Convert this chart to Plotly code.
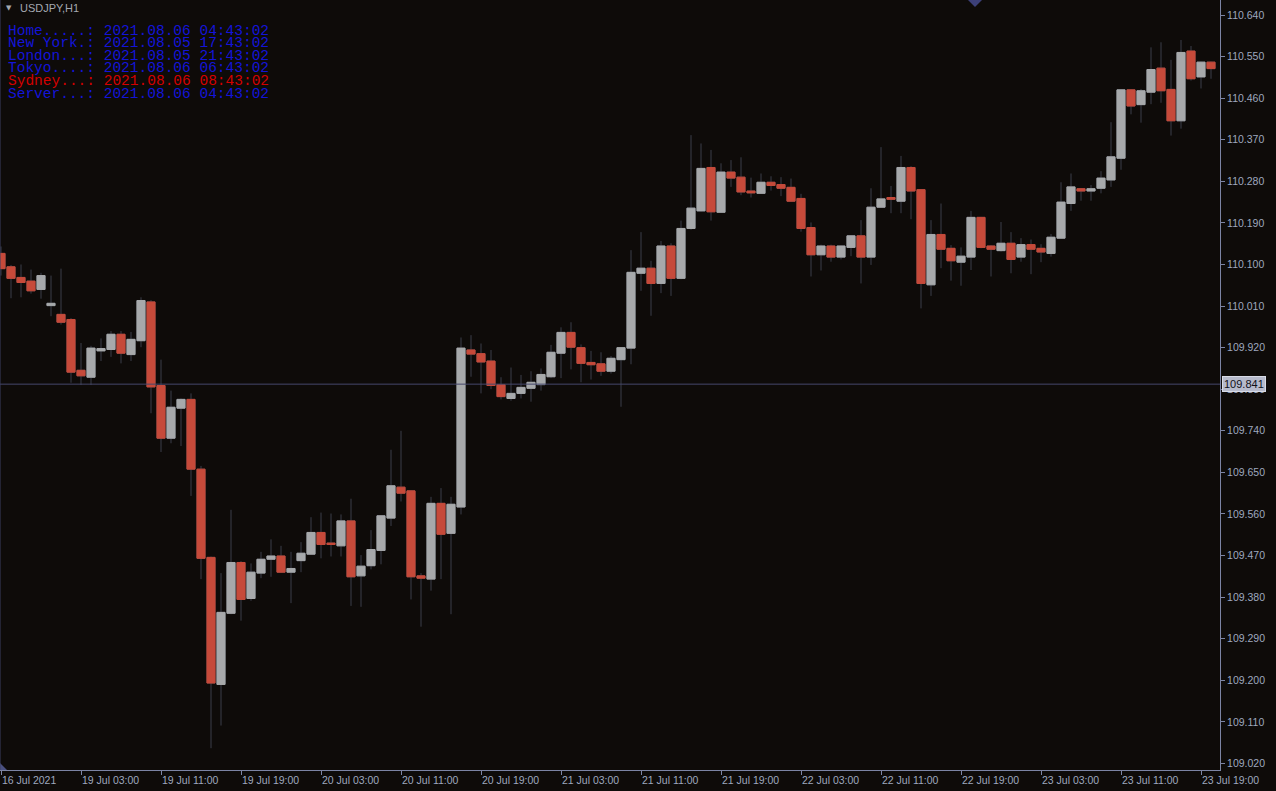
import plotly.graph_objects as go

# USDJPY H1 bars, oldest first
opens = [110.124, 110.095, 110.072, 110.064, 110.046, 110.011, 109.992, 109.981, 109.871, 109.856,
         109.913, 109.916, 109.949, 109.905, 109.935, 110.019, 109.838, 109.724, 109.789, 109.808,
         109.657, 109.466, 109.191, 109.345, 109.455, 109.377, 109.432, 109.462, 109.469, 109.434,
         109.459, 109.473, 109.520, 109.497, 109.491, 109.545, 109.426, 109.448, 109.481, 109.551,
         109.618, 109.610, 109.426, 109.419, 109.583, 109.518, 109.575, 109.915, 109.907, 109.891,
         109.840, 109.810, 109.821, 109.832, 109.840, 109.857, 109.908, 109.953, 109.920, 109.888,
         109.885, 109.869, 109.894, 109.919, 110.081, 110.092, 110.059, 110.140, 110.070, 110.178,
         110.216, 110.310, 110.213, 110.300, 110.289, 110.259, 110.254, 110.278, 110.273, 110.267,
         110.243, 110.180, 110.121, 110.140, 110.116, 110.137, 110.162, 110.116, 110.224, 110.245,
         110.237, 110.310, 110.262, 110.056, 110.165, 110.135, 110.105, 110.116, 110.202, 110.140,
         110.130, 110.146, 110.116, 110.143, 110.135, 110.124, 110.157, 110.232, 110.264, 110.259,
         110.265, 110.283, 110.330, 110.478, 110.446, 110.473, 110.525, 110.479, 110.411, 110.562,
         110.506, 110.538]
highs = [110.139, 110.099, 110.100, 110.089, 110.082, 110.076, 110.091, 109.984, 109.930, 109.924,
         109.940, 109.956, 109.956, 109.954, 110.029, 110.023, 109.894, 109.827, 109.810, 109.821,
         109.664, 109.468, 109.432, 109.569, 109.458, 109.453, 109.478, 109.505, 109.491, 109.478,
         109.499, 109.553, 109.563, 109.561, 109.559, 109.593, 109.471, 109.525, 109.557, 109.699,
         109.740, 109.611, 109.432, 109.597, 109.616, 109.597, 109.942, 109.947, 109.929, 109.915,
         109.856, 109.877, 109.861, 109.869, 109.875, 109.926, 109.964, 109.975, 109.927, 109.913,
         109.910, 109.902, 109.921, 110.131, 110.170, 110.108, 110.151, 110.146, 110.195, 110.380,
         110.362, 110.348, 110.319, 110.326, 110.332, 110.288, 110.297, 110.291, 110.289, 110.286,
         110.253, 110.191, 110.143, 110.143, 110.141, 110.163, 110.196, 110.265, 110.354, 110.270,
         110.335, 110.313, 110.263, 110.196, 110.232, 110.142, 110.137, 110.216, 110.203, 110.142,
         110.192, 110.170, 110.157, 110.154, 110.144, 110.166, 110.278, 110.297, 110.265, 110.272,
         110.302, 110.408, 110.479, 110.479, 110.480, 110.570, 110.581, 110.543, 110.586, 110.573,
         110.539, 110.539]
lows = [110.076, 110.027, 110.029, 110.037, 110.026, 109.988, 109.970, 109.844, 109.839, 109.839,
        109.891, 109.900, 109.886, 109.891, 109.921, 109.778, 109.694, 109.713, 109.707, 109.599,
        109.419, 109.053, 109.102, 109.343, 109.329, 109.372, 109.421, 109.424, 109.433, 109.367,
        109.434, 109.472, 109.464, 109.468, 109.468, 109.361, 109.359, 109.440, 109.451, 109.534,
        109.587, 109.375, 109.316, 109.394, 109.419, 109.343, 109.559, 109.857, 109.821, 109.830,
        109.808, 109.805, 109.810, 109.803, 109.827, 109.854, 109.854, 109.873, 109.845, 109.851,
        109.859, 109.864, 109.792, 109.884, 110.043, 109.989, 110.038, 110.032, 110.068, 110.175,
        110.215, 110.195, 110.212, 110.268, 110.250, 110.245, 110.253, 110.260, 110.248, 110.236,
        110.171, 110.074, 110.087, 110.106, 110.111, 110.118, 110.059, 110.099, 110.223, 110.211,
        110.211, 110.198, 110.005, 110.032, 110.092, 110.065, 110.054, 110.088, 110.135, 110.074,
        110.128, 110.081, 110.106, 110.079, 110.105, 110.117, 110.156, 110.216, 110.238, 110.238,
        110.254, 110.268, 110.305, 110.425, 110.407, 110.447, 110.450, 110.379, 110.394, 110.498,
        110.481, 110.502]
closes = [110.091, 110.070, 110.061, 110.043, 110.076, 110.016, 109.975, 109.867, 109.859, 109.919,
          109.918, 109.949, 109.908, 109.938, 110.022, 109.835, 109.724, 109.791, 109.808, 109.657,
          109.464, 109.194, 109.347, 109.455, 109.375, 109.434, 109.462, 109.469, 109.434, 109.442,
          109.475, 109.520, 109.494, 109.494, 109.545, 109.424, 109.447, 109.483, 109.556, 109.621,
          109.605, 109.424, 109.421, 109.583, 109.516, 109.581, 109.919, 109.906, 109.889, 109.838,
          109.814, 109.821, 109.834, 109.845, 109.862, 109.910, 109.953, 109.921, 109.886, 109.883,
          109.869, 109.897, 109.920, 110.083, 110.092, 110.059, 110.140, 110.070, 110.178, 110.222,
          110.308, 110.214, 110.300, 110.287, 110.257, 110.255, 110.278, 110.271, 110.265, 110.237,
          110.178, 110.121, 110.140, 110.116, 110.140, 110.162, 110.116, 110.224, 110.242, 110.241,
          110.310, 110.259, 110.059, 110.165, 110.133, 110.108, 110.118, 110.202, 110.137, 110.133,
          110.146, 110.111, 110.143, 110.133, 110.127, 110.159, 110.235, 110.268, 110.259, 110.264,
          110.287, 110.333, 110.478, 110.443, 110.476, 110.522, 110.476, 110.411, 110.559, 110.502,
          110.538, 110.524]

time_ticks = [0, 8, 16, 24, 32, 40, 48, 56, 64, 72, 80, 88, 96, 104, 112, 120]
time_labels = ["16 Jul 2021", "19 Jul 03:00", "19 Jul 11:00", "19 Jul 19:00", "20 Jul 03:00",
               "20 Jul 11:00", "20 Jul 19:00", "21 Jul 03:00", "21 Jul 11:00", "21 Jul 19:00",
               "22 Jul 03:00", "22 Jul 11:00", "22 Jul 19:00", "23 Jul 03:00", "23 Jul 11:00",
               "23 Jul 19:00"]
price_ticks = [109.020, 109.110, 109.200, 109.290, 109.380, 109.470, 109.560, 109.650, 109.740,
               109.830, 109.920, 110.010, 110.100, 110.190, 110.280, 110.370, 110.460, 110.550,
               110.640]
hline_price = 109.841

clock_names = ["Home.....:", "New York.:", "London...:", "Tokyo....:", "Sydney...:", "Server...:"]
clock_times = ["2021.08.06 04:43:02", "2021.08.05 17:43:02", "2021.08.05 21:43:02",
               "2021.08.06 06:43:02", "2021.08.06 08:43:02", "2021.08.06 04:43:02"]
clock_colors = ["#1414d8", "#1414d8", "#1414d8", "#1414d8", "#d40000", "#1414d8"]

BG = "#0e0b09"
BULL = "#a7a9ab"
BEAR = "#c64a3a"
WICK = "#3b3f4a"
AXIS = "#7c84a4"
TXT = "#9ea8bf"

x = list(range(len(opens)))
body_hi = [max(o, c) for o, c in zip(opens, closes)]
body_lo = [min(o, c) for o, c in zip(opens, closes)]

fig = go.Figure()
# wicks (full range, drawn in the dark wick colour)
fig.add_trace(go.Candlestick(
    x=x, open=opens, high=highs, low=lows, close=closes,
    increasing=dict(line=dict(color=WICK, width=1), fillcolor=WICK),
    decreasing=dict(line=dict(color=WICK, width=1), fillcolor=WICK),
    whiskerwidth=0, hoverinfo="skip",
))
# bodies on top
fig.add_trace(go.Candlestick(
    x=x, open=opens, high=body_hi, low=body_lo, close=closes,
    increasing=dict(line=dict(color=BULL, width=1), fillcolor=BULL),
    decreasing=dict(line=dict(color=BEAR, width=1), fillcolor=BEAR),
    whiskerwidth=0,
))

W, H = 1220, 770  # plot area in px


def px(xp):
    return xp / W


def py(yp):
    return 1 - yp / H


shapes = [
    dict(type="line", xref="paper", yref="y", x0=0, x1=1, y0=hline_price, y1=hline_price,
         line=dict(color="#45486c", width=1)),
    dict(type="path", xref="paper", yref="paper",
         path=f"M {px(968)},{py(0)} L {px(982)},{py(0)} L {px(975)},{py(7)} Z",
         fillcolor="#3c4078", line=dict(width=0)),
    dict(type="path", xref="paper", yref="paper",
         path=f"M 0,0 L {px(7)},0 L 0,{7 / H} Z",
         fillcolor="#4a5080", line=dict(width=0)),
    dict(type="line", xref="paper", yref="paper", x0=0, x1=0, y0=0, y1=1,
         line=dict(color="#3a3f60", width=1)),
]

annotations = [
    dict(xref="paper", yref="paper", x=px(4), y=py(8), xanchor="left", yanchor="middle",
         text="▼", showarrow=False, font=dict(family="DejaVu Sans", size=7, color="#a4a8b0")),
    dict(xref="paper", yref="paper", x=px(18), y=py(8), xanchor="left", yanchor="middle",
         text="USDJPY,H1", showarrow=False,
         font=dict(family="Liberation Sans", size=11, color="#a4a8b0")),
    dict(xref="paper", yref="y", x=px(1222), y=hline_price, xanchor="left", yanchor="middle",
         text="109.841", showarrow=False, bgcolor="#b6bacb", bordercolor="#d8dbe6", borderwidth=1,
         borderpad=1, font=dict(family="Liberation Sans", size=11, color="#101018")),
]
for k, (name, t, col) in enumerate(zip(clock_names, clock_times, clock_colors)):
    annotations.append(dict(
        xref="paper", yref="paper", x=px(6), y=py(31 + 12.5 * k), xanchor="left", yanchor="middle",
        text=f"{name} {t}", showarrow=False,
        font=dict(family="Liberation Mono", size=14.5, color=col),
    ))

fig.update_layout(
    width=1276, height=791,
    margin=dict(l=0, r=56, t=0, b=21),
    paper_bgcolor=BG, plot_bgcolor=BG,
    showlegend=False,
    boxgap=0.1, boxgroupgap=0.1,
    shapes=shapes, annotations=annotations,
    font=dict(family="Liberation Sans", size=10.5, color=TXT),
    xaxis=dict(
        range=[-0.1, 121.9], rangeslider=dict(visible=False),
        tickvals=time_ticks, ticktext=time_labels, ticklabelposition="outside right",
        ticks="outside", ticklen=4, tickcolor=AXIS, tickfont=dict(size=10.5, color=TXT),
        showline=True, linecolor=AXIS, linewidth=1, showgrid=False, zeroline=False,
    ),
    yaxis=dict(
        side="right", range=[109.0058, 110.6725],
        tickvals=price_ticks, tickformat=".3f",
        ticks="outside", ticklen=4, tickcolor=AXIS, tickfont=dict(size=10.5, color=TXT),
        showline=True, linecolor=AXIS, linewidth=1, showgrid=False, zeroline=False,
    ),
)

# page body has a default 8px margin; drop it so the figure fills the window
fig.write_html("out.html", config={"displayModeBar": False},
               post_script="document.body.style.margin='0';"
                           "document.body.style.background='" + BG + "';")
